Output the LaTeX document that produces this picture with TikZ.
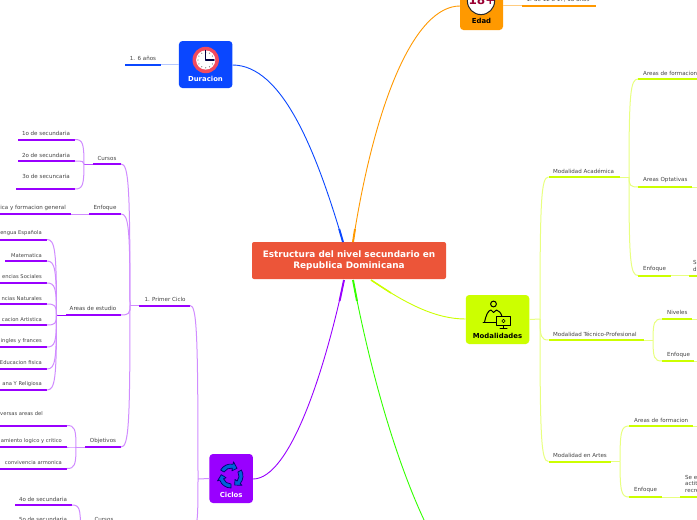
\documentclass[tikz,border=0pt]{standalone}
\usepackage{fontspec}
\setmainfont{DejaVu Sans}
\usetikzlibrary{calc}
\definecolor{pur}{HTML}{9900FF}\definecolor{purL}{HTML}{D08CFF}
\definecolor{yel}{HTML}{CCFF00}\definecolor{yelL}{HTML}{E8FF80}
\definecolor{ora}{HTML}{FF9900}\definecolor{oraL}{HTML}{FFCC80}
\definecolor{blu}{HTML}{0A47FF}\definecolor{bluL}{HTML}{B5C8FF}
\definecolor{grn}{HTML}{33FF00}
\definecolor{redb}{HTML}{EC5539}
\definecolor{txt}{HTML}{444444}
\definecolor{ring}{HTML}{F14B5E}
\tikzset{
  lbl/.style={font=\fontsize{5.55}{6.9}\selectfont,text=txt,inner sep=0pt,align=left,yshift=-0.4pt},
  lefte/.style={font=\fontsize{5.2}{6.9}\selectfont,anchor=east},
  boxn/.style={rounded corners=3.5pt,inner sep=0pt,minimum width=0pt},
  boxlab/.style={font=\fontsize{6.9}{8}\bfseries\selectfont,inner sep=0pt},
  main/.style={line width=.9pt},
  stub/.style={line width=1.9pt}
}
% \tpc{colour}{name}{x1}{x2}{y}{node placement}{text}
\newcommand\tpc[7]{%
  \coordinate (#2-l) at (#3,#5);
  \coordinate (#2-r) at (#4,#5);
  \draw[#1,line width=2pt] (#2-l) -- (#2-r);
  \node[lbl,#6] (#2) {#7};
}
% \cvv{colour}{joint}{topic end}: leaves the joint vertically, arrives horizontally
\newcommand\cvv[3]{%
  \draw[#1,line width=1pt] (#2) .. controls ($(#2)!.85!(#2|-#3)$) and ($(#2|-#3)!.15!(#3)$) .. (#3);
}
\newcommand\lkk[3]{\draw[#1,line width=1pt] (#2) -- (#3);}
\begin{document}
\begin{tikzpicture}[x=1pt,y=-1pt]
\useasboundingbox (0,0) rectangle (697,520);
\fill[white] (0,0) rectangle (697,520);

% --- main boxes
\node[boxn,fill=redb,minimum width=194pt,minimum height=37pt,rounded corners=2pt,
  text=white,align=center,font=\fontsize{8.9}{11}\bfseries\selectfont] (root) at (349,260.5)
  {Estructura del nivel secundario en\\Republica Dominicana};
\node[boxn,fill=blu,minimum width=53.5pt,minimum height=47pt] (dur) at (205.7,64.5) {};
\node[boxn,fill=pur,minimum width=43.5pt,minimum height=49pt] (cic) at (231.2,478.5) {};
\node[boxn,fill=yel,minimum width=63.5pt,minimum height=49pt] (mod) at (497.5,319.5) {};
\node[boxn,fill=ora,minimum width=43pt,minimum height=50pt] (eda) at (481.5,5) {};
\node[boxlab,text=white] (durt) at (205.5,79) {Duracion};
\node[boxlab,text=white] (cict) at (231.2,494.5) {Ciclos};
\node[boxlab,text=black] (modt) at (497.5,335.5) {Modalidades};
\node[boxlab,text=black] (edat) at (481.5,20.5) {Edad};

% --- root connectors
\coordinate (rB) at (343,242); \coordinate (rO) at (353,242);
\coordinate (rP) at (344,280); \coordinate (rG) at (353,280);
\coordinate (rY) at (371,280); \coordinate (gEnd) at (425,522);
\coordinate (bL) at (232.5,65); \coordinate (oL) at (460,6);
\coordinate (pR) at (253,479); \coordinate (yR) at (465.5,319);
\draw[blu,main] (bL) .. controls (282,65) and (316,150) .. (rB);
\draw[ora,main] (oL) .. controls (415,6) and (375,100) .. (rO);
\draw[pur,main] (pR) .. controls (290,479) and (325,370) .. (rP);
\draw[grn,main] (gEnd) .. controls (398,465) and (372,380) .. (rG);
\draw[yel,main] (yR) .. controls (435,319) and (405,303) .. (rY);
\draw[blu,stub] (rB) -- (339.2,229);
\draw[ora,stub] (rO) -- (355,229);
\draw[pur,stub] (rP) -- (339.6,301);
\draw[grn,stub] (rG) -- (357,301);
\draw[yel,line width=1.5pt] (rY) -- (391,293);

% --- Duracion
\tpc{blu}{d1}{125}{161}{64.5}{at={(143,58)}}{1. 6 años}
\lkk{bluL,line width=1.5pt}{d1-r}{dur.west}

% --- Edad
\tpc{ora}{e1}{522}{596}{5.5}{at={(558,-0.5)}}{1. de 12 a 17, 18 años}
\lkk{oraL}{eda.east|-e1-r}{e1-l}

% --- Ciclos, left side
\coordinate (jC) at (198,479);
\coordinate (cEnd) at (194,526);
\lkk{purL}{cic.west}{jC}
\tpc{pur}{pc}{139}{190}{305.5}{at={(165,299)}}{1. Primer Ciclo}
\cvv{purL}{jC}{pc-r}
\cvv{purL}{jC}{cEnd}
\coordinate (jP) at (130,305.5);
\lkk{purL,line width=1.5pt}{pc-l}{jP}

\tpc{pur}{cu}{93}{121}{164}{at={(107,158)}}{Cursos}
\tpc{pur}{en}{89}{121}{214}{at={(105,208)}}{Enfoque}
\tpc{pur}{ae}{66}{121}{315}{at={(93,308)}}{Areas de estudio}
\tpc{pur}{ob}{85}{121}{447}{at={(103,441)}}{Objetivos}
\cvv{purL}{jP}{cu-r}
\cvv{purL}{jP}{en-r}
\cvv{purL}{jP}{ae-r}
\cvv{purL}{jP}{ob-r}

% Cursos
\coordinate (jCu) at (84,164);
\lkk{pur!70!white}{cu-l}{jCu}
\tpc{pur}{c1}{18}{75}{139.5}{at={(46,133)}}{1o de secundaria}
\tpc{pur}{c2}{18}{75}{161}{at={(46,155)}}{2o de secundaria}
\tpc{pur}{c3}{16}{75}{189}{at={(46,176)}}{3o de secuncaria}
\cvv{purL}{jCu}{c1-r}
\cvv{purL}{jCu}{c2-r}
\cvv{purL}{jCu}{c3-r}

% Enfoque
\tpc{pur}{en1}{-2}{71}{214}{anchor=east,at={(66,208)}}{ica y formacion general}
\lkk{purL,line width=1.5pt}{en1-r}{en-l}

% Areas de estudio
\coordinate (jAe) at (56.5,315);
\lkk{pur}{ae-l}{jAe}
\tpc{pur}{a1}{-2}{47}{239.5}{lefte,at={(42,233)}}{engua Española}
\tpc{pur}{a2}{5}{47}{261}{lefte,at={(42,255)}}{Matematica}
\tpc{pur}{a3}{-2}{47}{283}{lefte,at={(42,276)}}{encias Sociales}
\tpc{pur}{a4}{-2}{47}{304}{lefte,at={(42,298)}}{ncias Naturales}
\tpc{pur}{a5}{-2}{47}{325}{lefte,at={(42,319)}}{cacion Artistica}
\tpc{pur}{a6}{-2}{47}{347}{lefte,at={(42,341)}}{ingles y frances}
\tpc{pur}{a7}{-2}{47}{369}{lefte,at={(42,362)}}{Educacion fisica}
\tpc{pur}{a8}{-2}{47}{390}{lefte,at={(42,384)}}{ana Y Religiosa}
\foreach \n in {a1,a2,a3,a4,a5,a6,a7,a8}{\cvv{purL}{jAe}{\n-r}}

% Objetivos
\coordinate (jOb) at (76,447);
\lkk{purL,line width=1.5pt}{ob-l}{jOb}
\tpc{pur}{o1}{-2}{67}{425.5}{lefte,at={(43,413)}}{versas areas del}
\tpc{pur}{o2}{-2}{67}{447}{lefte,at={(62,441)}}{amiento logico y critico}
\tpc{pur}{o3}{-2}{67}{468.5}{lefte,at={(62,462)}}{convivencia armonica}
\cvv{purL}{jOb}{o1-r}
\cvv{purL}{jOb}{o2-r}
\cvv{purL}{jOb}{o3-r}

% Second cycle, cut by the page
\tpc{pur}{s1}{15}{72}{505}{at={(43,499)}}{4o de secundaria}
\coordinate (jS) at (80.5,528);
\cvv{purL}{jS}{s1-r}
\node[lbl] (s2) at (43,519.5) {5o de secundaria};
\node[lbl] (s3) at (104,519.5) {Cursos};

% --- Modalidades, right side
\coordinate (jM) at (540,319);
\lkk{yelL}{mod.east}{jM}
\tpc{yel}{m1}{548.5}{620}{177}{anchor=west,at={(553,171)}}{Modalidad Académica}
\tpc{yel}{m2}{548.5}{644}{340}{anchor=west,at={(553,334)}}{Modalidad Técnico-Profesional}
\tpc{yel}{m3}{548.5}{611}{461.5}{anchor=west,at={(553,455)}}{Modalidad en Artes}
\cvv{yelL}{jM}{m1-l}
\cvv{yelL}{jM}{m2-l}
\cvv{yelL}{jM}{m3-l}

% Modalidad Academica
\coordinate (jM1) at (629,177);
\lkk{yelL}{m1-r}{jM1}
\tpc{yel}{k1}{638}{699}{79}{anchor=west,at={(643,73)}}{Areas de formacion}
\tpc{yel}{k2}{638}{692}{187}{anchor=west,at={(643,180)}}{Areas Optativas}
\tpc{yel}{k3}{638}{671}{275.5}{anchor=west,at={(643,269)}}{Enfoque}
\cvv{yelL}{jM1}{k1-l}
\cvv{yelL}{jM1}{k2-l}
\cvv{yelL}{jM1}{k3-l}
\coordinate (k2e) at (699,187);
\lkk{yelL}{k2-r}{k2e}
\tpc{yel}{k4}{689}{699}{275.5}{anchor=west,at={(693,265.5)}}{S\\d}
\lkk{yelL}{k3-r}{k4-l}

% Modalidad Tecnico
\coordinate (jM2) at (653,340);
\lkk{yelL}{m2-r}{jM2}
\tpc{yel}{t1}{662}{692}{319}{anchor=west,at={(667,312)}}{Niveles}
\tpc{yel}{t2}{662}{694}{361}{anchor=west,at={(667,355)}}{Enfoque}
\cvv{yelL}{jM2}{t1-l}
\cvv{yelL}{jM2}{t2-l}
\coordinate (t1e) at (699,319);
\coordinate (t2e) at (699,361);
\lkk{yelL}{t1-r}{t1e}
\lkk{yelL}{t2-r}{t2e}

% Modalidad Artes
\coordinate (jM3) at (620,461.5);
\lkk{yelL,line width=1.5pt}{m3-r}{jM3}
\tpc{yel}{r1}{629}{693}{426}{anchor=west,at={(634,420)}}{Areas de formacion}
\tpc{yel}{r2}{629}{662}{497}{anchor=west,at={(634,490)}}{Enfoque}
\cvv{yelL}{jM3}{r1-l}
\cvv{yelL}{jM3}{r2-l}
\coordinate (r1e) at (699,426);
\lkk{yelL}{r1-r}{r1e}
\tpc{yel}{r3}{680}{699}{497}{anchor=west,at={(685,483.5)}}{Se e\\actit\\recre}
\lkk{yelL,line width=1.5pt}{r2-r}{r3-l}

% --- icons
% clock
\fill[ring] (205.7,60) circle (13.2);
\fill[white] (205.7,60) circle (9.6);
\foreach \a in {0,30,...,330}{\fill[gray] ($(205.7,60)+(\a:7.8)$) circle (.65);}
\draw[black!75!blue,line width=1.4pt,line cap=round,line join=round] (205.7,50.5) -- (205.7,60) -- (214,60);

% 18+
\fill[white] (481,1) circle (13.6);
\draw[black!85,line width=1pt] (481,1) circle (13.6);
\node[inner sep=0pt,text=purple!80!black,font=\fontsize{12}{12}\bfseries\selectfont] (age) at (482,0) {18+};

% person with monitor
\begin{scope}[black,line width=1pt,line join=round,line cap=round]
\draw (493.5,304) circle (2.9);
\draw (484.5,322.5) .. controls (486,315) and (488,310.5) .. (491,310) -- (493.5,312.5) -- (496.5,310) .. controls (499,310.5) and (501,313) .. (502,316.5);
\draw (483,322.5) -- (496,322.5);
\draw (496.5,316.8) rectangle (510.5,325.5);
\draw (503.5,325.5) -- (503.5,328) (500,328) -- (507,328);
\draw[line width=.5pt] (503.5,321) circle (1.7);
\end{scope}

% cycle arrows
\foreach \a in {0,120,240}{
  \filldraw[fill=blue!55!cyan!85!black,draw=blue!45!black,line width=.7pt,line join=round]
    ($(231,476)+(-150+\a:8)$) arc[start angle=-150+\a,end angle=-80+\a,radius=8]
    -- ($(231,476)+(-80+\a:5.2)$) -- ($(231,476)+(-52+\a:9.8)$) -- ($(231,476)+(-80+\a:14.4)$)
    -- ($(231,476)+(-80+\a:12)$) arc[start angle=-80+\a,end angle=-150+\a,radius=12] -- cycle;
}
\end{tikzpicture}
\end{document}
